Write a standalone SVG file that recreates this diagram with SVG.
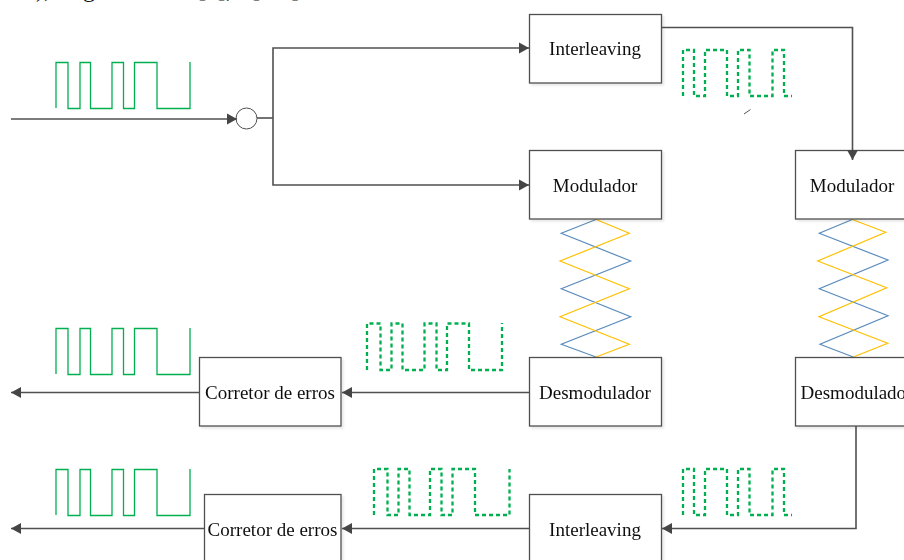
<svg xmlns="http://www.w3.org/2000/svg" width="904" height="560" viewBox="0 0 904 560">
<style>
.box{fill:#fff;stroke:#505050;stroke-width:1.3}
.t{font-family:"Liberation Serif","Times New Roman",serif;font-size:19px;fill:#111;text-anchor:middle}
.c{fill:none;stroke:#505050;stroke-width:1.6}
.s{fill:none;stroke:#00B050;stroke-width:1.3}
.d{fill:none;stroke:#00B050;stroke-width:2.3;stroke-dasharray:4 3}
.b{fill:none;stroke:#5B8CBE;stroke-width:1.2}
.y{fill:none;stroke:#FFC000;stroke-width:1.2}
.sh{filter:url(#soft)}
</style>
<defs>
<marker id="a" markerUnits="userSpaceOnUse" markerWidth="12" markerHeight="12" refX="10" refY="6" orient="auto"><path d="M0 0.500L10 6L0 11.500Z" fill="#454545"/></marker>
<filter id="soft" x="-5%" y="-5%" width="112%" height="115%"><feDropShadow dx="2" dy="2" stdDeviation="0.800" flood-color="#000" flood-opacity="0.09"/></filter>
</defs>
<rect width="904" height="560" fill="#fff"/>
<text y="-3" style="font-family:'Liberation Serif',serif;font-size:24px;fill:#111"><tspan x="36">),</tspan><tspan x="63">Figura</tspan><tspan x="198">[4],</tspan><tspan x="252" letter-spacing="2.500">[10]</tspan></text>
<g id="signals">
<path class="s" d="M56 108V62.500H68V108.500H80V62.500H90.500V108.500H112V62.500H123.500V108.500H134.500V62.500H157V108.500H190V62"/>
<path class="s" d="M56 374V328.500H68V374.500H80V328.500H90.500V374.500H112V328.500H123.500V374.500H134.500V328.500H157V374.500H190V328"/>
<path class="s" d="M56 515V469.500H68V515.500H80V469.500H90.500V515.500H112V469.500H123.500V515.500H134.500V469.500H157V515.500H190V469"/>
<path class="d" d="M683 96V50H694V96H705V50H727V96H738V50H749.500V96H772.500V50H784V96H792"/>
<path class="d" d="M683 515V469H694V515H705V469H727V515H738V469H749.500V515H772.500V469H784V515H792"/>
<path class="d" d="M367 370V323.500H380.500V370H391.500V323.500H402.500V370H424.500V323.500H436.500V370H447V323.500H469V370H502V323"/>
<path class="d" d="M374 515V469H387.500V515H398.500V469H409.500V515H430V469H441.500V515H452.500V469H475V515H509.500V469"/>
<path class="b" d="M596 219.500L561.300 233.300L630.700 261L561.300 288.700L630.700 316.700L561.300 344.300L596 357"/>
<path class="y" d="M596 219.500L629.300 233.300L560 261L629.300 288.700L560 316.700L629.300 344.300L596 357"/>
<path class="b" d="M852.300 219.500L819.300 233.300L888 260L819.300 288.700L888 315.700L820 344.300L853.300 357"/>
<path class="y" d="M852.300 219.500L885.700 232.300L817.700 261L886.700 287.700L819 316.700L887.700 343.300L853.300 357"/>
</g>
<g id="junction"><circle cx="246.500" cy="118.500" r="10.500" fill="#fff" stroke="#505050" stroke-width="1"/></g>
<g id="interleaving-top" class="sh"><rect class="box" x="529.500" y="14.500" width="132" height="68.500"/><text class="t" x="595" y="54.500">Interleaving</text></g>
<g id="modulador-left" class="sh"><rect class="box" x="529.500" y="150.500" width="132" height="68.500"/><text class="t" x="595" y="191.500">Modulador</text></g>
<g id="modulador-right" class="sh"><rect class="box" x="795.500" y="150.500" width="132" height="68.500"/><text class="t" x="852" y="191.500">Modulador</text></g>
<g id="desmodulador-left" class="sh"><rect class="box" x="529.500" y="357.500" width="132" height="68.500"/><text class="t" x="595" y="398.500">Desmodulador</text></g>
<g id="desmodulador-right" class="sh"><rect class="box" x="795.500" y="357.500" width="132" height="68.500"/><text class="t" x="856.500" y="398.500">Desmodulador</text></g>
<g id="corretor-top" class="sh"><rect class="box" x="199.500" y="357.500" width="141.500" height="68.500"/><text class="t" x="270" y="398.500">Corretor de erros</text></g>
<g id="corretor-bottom" class="sh"><rect class="box" x="204.500" y="494.500" width="136.500" height="68.500"/><text class="t" x="272.500" y="535.500">Corretor de erros</text></g>
<g id="interleaving-bottom" class="sh"><rect class="box" x="529.500" y="494.500" width="132" height="68.500"/><text class="t" x="595" y="535.500">Interleaving</text></g>
<g id="connectors">
<path class="c" marker-end="url(#a)" d="M11 119H237"/>
<path class="c" d="M257 118H273"/>
<path class="c" marker-end="url(#a)" d="M273 118V48H529"/>
<path class="c" marker-end="url(#a)" d="M273 118V185H529"/>
<path class="c" marker-end="url(#a)" d="M661.500 27.500H852.500V160"/>
<path class="c" marker-end="url(#a)" d="M856 426V528.500H662"/>
<path class="c" marker-end="url(#a)" d="M529 392.500H342"/>
<path class="c" marker-end="url(#a)" d="M200 392.500H11"/>
<path class="c" marker-end="url(#a)" d="M529 528.500H342"/>
<path class="c" marker-end="url(#a)" d="M204 528.500H11"/>
<path d="M744 114L750.500 109.500" stroke="#555" stroke-width="1" fill="none"/>
</g>
</svg>
